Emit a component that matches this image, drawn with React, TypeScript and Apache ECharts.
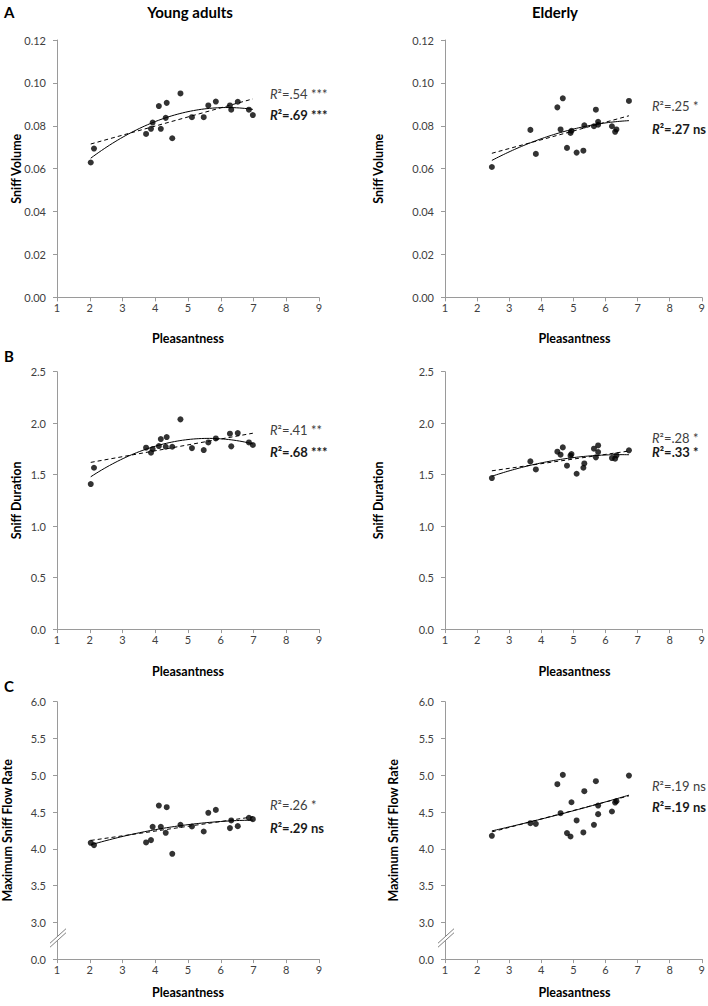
import React, { useEffect, useRef } from "react";
import * as echarts from "echarts";

// ---------- data ----------
const youngX = [2.03, 2.13, 3.72, 3.87, 3.92, 4.11, 4.17, 4.32, 4.35, 4.52, 4.77, 5.12, 5.48, 5.62, 5.85, 6.28, 6.32, 6.52, 6.86, 6.98];
const elderlyX = [2.46, 3.66, 3.83, 4.5, 4.6, 4.67, 4.8, 4.91, 4.94, 5.1, 5.31, 5.34, 5.64, 5.7, 5.77, 5.77, 6.2, 6.3, 6.34, 6.73];

const youngVolume = [0.0629, 0.0694, 0.0762, 0.0786, 0.0815, 0.0892, 0.0786, 0.0837, 0.0907, 0.0742, 0.0951, 0.084, 0.084, 0.0895, 0.0913, 0.0895, 0.0875, 0.0912, 0.0875, 0.085];
const elderlyVolume = [0.0608, 0.0781, 0.0669, 0.0886, 0.0783, 0.0928, 0.0697, 0.0767, 0.0777, 0.0675, 0.0684, 0.0802, 0.0798, 0.0875, 0.0819, 0.0805, 0.0798, 0.0772, 0.0783, 0.0916];

const youngDuration = [1.409, 1.567, 1.762, 1.713, 1.749, 1.778, 1.846, 1.771, 1.865, 1.771, 2.037, 1.758, 1.739, 1.813, 1.852, 1.898, 1.775, 1.904, 1.813, 1.788];
const elderlyDuration = [1.467, 1.629, 1.551, 1.723, 1.694, 1.765, 1.587, 1.684, 1.7, 1.509, 1.567, 1.609, 1.752, 1.668, 1.784, 1.72, 1.661, 1.655, 1.687, 1.736];

const youngFlow = [4.081, 4.05, 4.086, 4.118, 4.299, 4.588, 4.299, 4.217, 4.566, 3.932, 4.326, 4.303, 4.235, 4.489, 4.529, 4.281, 4.385, 4.308, 4.421, 4.403];
const elderlyFlow = [4.176, 4.348, 4.339, 4.878, 4.484, 5.005, 4.213, 4.167, 4.633, 4.385, 4.222, 4.783, 4.326, 4.919, 4.588, 4.471, 4.507, 4.629, 4.647, 4.995];

const columnTitles = ["Young adults", "Elderly"];
const rowLetters = ["A", "B", "C"];
const yTitles = ["Sniff Volume", "Sniff Duration", "Maximum Sniff Flow Rate"];
const xTitle = "Pleasantness";
const r2Linear = [".54 ***", ".25 *", ".41 **", ".28 *", ".26 *", ".19 ns"];
const r2Quad = [".69 ***", ".27 ns", ".68 ***", ".33 *", ".29 ns", ".19 ns"];

const xTicks = { min: 1, max: 9, interval: 1 };
const yScales = [
  { min: 0, max: 0.12, interval: 0.02, dec: 2 },
  { min: 0, max: 2.5, interval: 0.5, dec: 1 },
  { min: 2.5, max: 6, interval: 0.5, dec: 1 },
];
const brokenLowLabel = "0.0";

// ---------- helpers ----------
function fitPoly(xs: number[], ys: number[], deg: number): number[] {
  const n = deg + 1;
  const A: number[][] = Array.from({ length: n }, () => Array(n + 1).fill(0));
  for (let k = 0; k < xs.length; k++) {
    for (let i = 0; i < n; i++) {
      for (let j = 0; j < n; j++) A[i][j] += Math.pow(xs[k], i + j);
      A[i][n] += ys[k] * Math.pow(xs[k], i);
    }
  }
  for (let c = 0; c < n; c++) {
    let p = c;
    for (let r = c + 1; r < n; r++) if (Math.abs(A[r][c]) > Math.abs(A[p][c])) p = r;
    [A[c], A[p]] = [A[p], A[c]];
    for (let r = 0; r < n; r++) {
      if (r === c) continue;
      const f = A[r][c] / A[c][c];
      for (let j = c; j <= n; j++) A[r][j] -= f * A[c][j];
    }
  }
  return A.map((row, i) => row[n] / row[i]);
}

function fitCurve(xs: number[], ys: number[], deg: number, steps: number) {
  const co = fitPoly(xs, ys, deg);
  const lo = Math.min(...xs);
  const hi = Math.max(...xs);
  const out: number[][] = [];
  for (let s = 0; s <= steps; s++) {
    const x = lo + ((hi - lo) * s) / steps;
    let y = 0;
    co.forEach((c, i) => (y += c * Math.pow(x, i)));
    out.push([x, y]);
  }
  return out;
}

const FONT = "Lato, 'Open Sans', sans-serif";
const AXIS_COLOR = "#9a9a9a";
const LABEL_COLOR = "#404040";

export default function App() {
  const ref = useRef<HTMLDivElement>(null);

  useEffect(() => {
    document.body.style.margin = "0";
    if (!ref.current) return;
    const chart = echarts.init(ref.current, undefined, { renderer: "svg" });

    const panels = [
      { xs: youngX, ys: youngVolume },
      { xs: elderlyX, ys: elderlyVolume },
      { xs: youngX, ys: youngDuration },
      { xs: elderlyX, ys: elderlyDuration },
      { xs: youngX, ys: youngFlow },
      { xs: elderlyX, ys: elderlyFlow },
    ];

    const colLeft = [57, 445];
    const colWidth = [262, 259];
    const rowTop = [40, 371.7, 701.7];
    const rowHeight = 257.4;
    const yTitleX = [
      [16, 378],
      [16, 378],
      [7, 393],
    ];
    const xTitleY = [338, 671, 992];
    const r2Pos = [
      [[270, 94, 115], [652, 106, 129]],
      [[270, 430, 452], [652, 438, 452]],
      [[270, 805, 828], [652, 786, 807]],
    ];

    const grid: any[] = [];
    const xAxis: any[] = [];
    const yAxis: any[] = [];
    const series: any[] = [];
    const graphic: any[] = [];

    panels.forEach((p, i) => {
      const r = Math.floor(i / 2);
      const c = i % 2;
      const ys = yScales[r];
      grid.push({ left: colLeft[c], top: rowTop[r], width: colWidth[c], height: rowHeight });
      xAxis.push({
        gridIndex: i,
        type: "value",
        min: xTicks.min,
        max: xTicks.max,
        interval: xTicks.interval,
        axisLine: { show: true, onZero: false, lineStyle: { color: AXIS_COLOR, width: 1 } },
        axisTick: { show: true, length: 4, lineStyle: { color: AXIS_COLOR } },
        axisLabel: { color: LABEL_COLOR, fontSize: 11, fontFamily: FONT, margin: 5 },
        splitLine: { show: false },
      });
      yAxis.push({
        gridIndex: i,
        type: "value",
        min: ys.min,
        max: ys.max,
        interval: ys.interval,
        axisLine: { show: true, lineStyle: { color: AXIS_COLOR, width: 1 } },
        axisTick: { show: true, length: 4, lineStyle: { color: AXIS_COLOR } },
        axisLabel: {
          color: LABEL_COLOR,
          fontSize: 11,
          fontFamily: FONT,
          margin: 11,
          formatter: (v: number) =>
            r === 2 && Math.abs(v - ys.min) < 1e-9 ? brokenLowLabel : v.toFixed(ys.dec),
        },
        splitLine: { show: false },
      });

      series.push({
        type: "line",
        xAxisIndex: i,
        yAxisIndex: i,
        data: fitCurve(p.xs, p.ys, 1, 1),
        showSymbol: false,
        silent: true,
        lineStyle: { color: "#000", width: 1, type: [4, 3] },
        z: 3,
      });
      series.push({
        type: "line",
        xAxisIndex: i,
        yAxisIndex: i,
        data: fitCurve(p.xs, p.ys, 2, 60),
        showSymbol: false,
        silent: true,
        lineStyle: { color: "#000", width: 1 },
        z: 3,
      });
      series.push({
        type: "scatter",
        xAxisIndex: i,
        yAxisIndex: i,
        data: p.xs.map((x, k) => [x, p.ys[k]]),
        symbol: "circle",
        symbolSize: 6,
        itemStyle: { color: "#000" },
        z: 4,
      });
      if (r === 2) {
        series.push({
          type: "custom",
          xAxisIndex: i,
          yAxisIndex: i,
          data: [[xTicks.min, (ys.min + ys.min + ys.interval) / 2]],
          silent: true,
          clip: false,
          z: 10,
          renderItem: (_params: any, api: any) => {
            const pt = api.coord([api.value(0), api.value(1)]);
            const cx = pt[0] + 1;
            const cy = pt[1] - 3;
            return {
              type: "group",
              children: [
                {
                  type: "polygon",
                  shape: { points: [[cx - 8, cy + 5.5], [cx + 8, cy - 9], [cx + 8, cy - 5], [cx - 8, cy + 9.5]] },
                  style: { fill: "#fff", stroke: null },
                },
                { type: "line", shape: { x1: cx - 8, y1: cy + 5.5, x2: cx + 8, y2: cy - 9 }, style: { stroke: "#7f7f7f", lineWidth: 1 } },
                { type: "line", shape: { x1: cx - 8, y1: cy + 9.5, x2: cx + 8, y2: cy - 5 }, style: { stroke: "#7f7f7f", lineWidth: 1 } },
              ],
            };
          },
        });
      }

      // y title
      graphic.push({
        type: "text",
        x: yTitleX[r][c],
        y: rowTop[r] + rowHeight / 2,
        rotation: Math.PI / 2,
        style: {
          text: yTitles[r],
          fill: "#000",
          font: `bold 12.5px ${FONT}`,
          textAlign: "center",
          textVerticalAlign: "middle",
        },
      });
      // x title
      graphic.push({
        type: "text",
        x: colLeft[c] + colWidth[c] / 2,
        y: xTitleY[r],
        style: {
          text: xTitle,
          fill: "#000",
          font: `bold 12.5px ${FONT}`,
          textAlign: "center",
          textVerticalAlign: "middle",
        },
      });
      // R² annotations
      const pos = r2Pos[r][c];
      graphic.push({
        type: "text",
        x: pos[0],
        y: pos[1],
        style: {
          text: `{i|R}²=${r2Linear[i]}`,
          fill: LABEL_COLOR,
          font: `13px ${FONT}`,
          textVerticalAlign: "middle",
          rich: { i: { fontStyle: "italic", fontSize: 13, fontFamily: FONT, fill: LABEL_COLOR } },
        },
      });
      graphic.push({
        type: "text",
        x: pos[0],
        y: pos[2],
        style: {
          text: `{i|R}²=${r2Quad[i]}`,
          fill: "#1a1a1a",
          font: `bold 13px ${FONT}`,
          textVerticalAlign: "middle",
          rich: { i: { fontStyle: "italic", fontWeight: "bold", fontSize: 13, fontFamily: FONT, fill: "#1a1a1a" } },
        },
      });
    });

    // column titles
    const colTitleX = [190, 555];
    columnTitles.forEach((t, c) => {
      graphic.push({
        type: "text",
        x: colTitleX[c],
        y: 12,
        style: { text: t, fill: "#000", font: `bold 15px ${FONT}`, textAlign: "center", textVerticalAlign: "middle" },
      });
    });
    // row letters
    const letterY = [12, 356, 686];
    rowLetters.forEach((l, r) => {
      graphic.push({
        type: "text",
        x: 4,
        y: letterY[r],
        style: { text: l, fill: "#000", font: `bold 15px ${FONT}`, textVerticalAlign: "middle" },
      });
    });

    chart.setOption({
      animation: false,
      backgroundColor: "#fff",
      grid,
      xAxis,
      yAxis,
      series,
      graphic,
    });

    return () => chart.dispose();
  }, []);

  return <div ref={ref} style={{ width: 708, height: 1006 }} />;
}
